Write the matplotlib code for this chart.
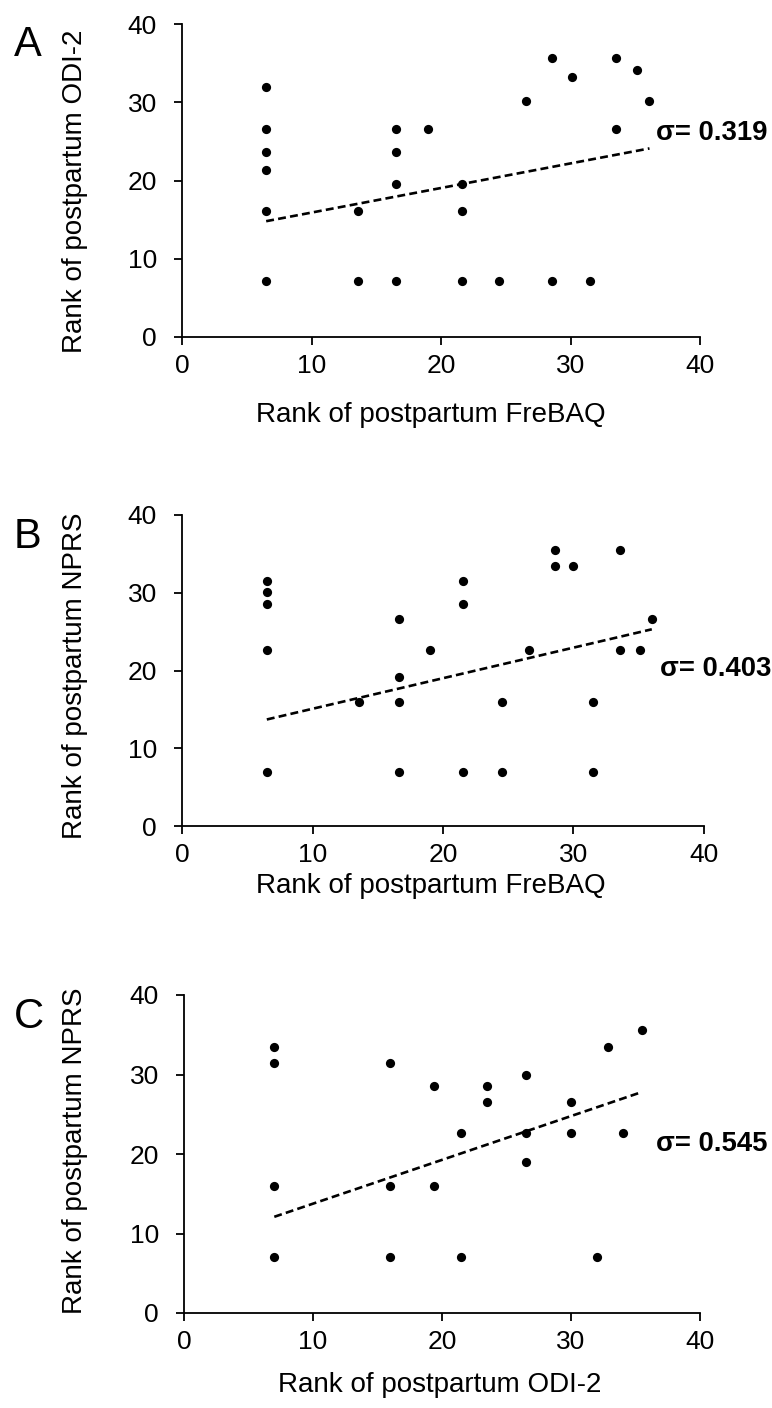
import matplotlib
matplotlib.use("Agg")
import matplotlib.pyplot as plt

plt.rcParams["font.family"] = ["Liberation Sans", "DejaVu Sans"]

# Panel A: FreBAQ rank vs ODI-2 rank
a_x = [6.5, 6.5, 6.5, 6.5, 6.5, 6.5, 13.6, 13.6, 16.5, 16.5, 16.5, 16.5, 19.0,
       21.6, 21.6, 21.6, 24.5, 26.6, 28.6, 28.6, 30.1, 31.5, 33.5, 33.5, 35.1, 36.1]
a_y = [32.0, 26.6, 23.6, 21.4, 16.1, 7.1, 16.1, 7.1, 26.6, 23.6, 19.6, 7.1, 26.6,
       19.6, 16.1, 7.1, 7.1, 30.1, 35.7, 7.1, 33.2, 7.1, 35.7, 26.6, 34.1, 30.1]
a_fit = ([6.5, 36.1], [14.8, 24.1])

# Panel B: FreBAQ rank vs NPRS rank
b_x = [6.5, 6.5, 6.5, 6.5, 6.5, 13.6, 16.6, 16.6, 16.6, 16.6, 19.0, 21.5, 21.5, 21.5,
       24.5, 24.5, 26.6, 28.6, 28.6, 30.0, 31.5, 31.5, 33.6, 33.6, 35.1, 36.0]
b_y = [31.5, 30.1, 28.6, 22.6, 6.9, 16.0, 26.6, 19.1, 16.0, 6.9, 22.6, 31.5, 28.6, 6.9,
       16.0, 6.9, 22.6, 35.5, 33.5, 33.5, 16.0, 6.9, 35.5, 22.6, 22.6, 26.6]
b_fit = ([6.5, 36.0], [13.7, 25.3])

# Panel C: ODI-2 rank vs NPRS rank
c_x = [7.0, 7.0, 7.0, 7.0, 16.0, 16.0, 16.0, 19.4, 19.4, 21.5, 21.5, 23.5, 23.5,
       26.5, 26.5, 26.5, 30.0, 30.0, 32.0, 32.9, 34.0, 35.5]
c_y = [33.5, 31.4, 16.0, 7.0, 31.4, 16.0, 7.0, 28.6, 16.0, 22.6, 7.0, 28.6, 26.5,
       29.9, 22.6, 19.0, 26.5, 22.6, 7.0, 33.5, 22.6, 35.6]
c_fit = ([7.0, 35.5], [12.1, 27.8])

panels = [
    ("A", a_x, a_y, a_fit, "σ= 0.319", "Rank of postpartum FreBAQ", "Rank of postpartum ODI-2"),
    ("B", b_x, b_y, b_fit, "σ= 0.403", "Rank of postpartum FreBAQ", "Rank of postpartum NPRS"),
    ("C", c_x, c_y, c_fit, "σ= 0.545", "Rank of postpartum ODI-2", "Rank of postpartum NPRS"),
]

W, H = 772, 1408
fig = plt.figure(figsize=(W / 100, H / 100), dpi=100)

# axes boxes in pixels: left, right, top, bottom
boxes = [(182, 700, 24, 337), (182, 704, 515, 826), (184, 700, 995, 1313)]
sigma_y = [26.1, 20.2, 21.3]
xlab_px = [(431, 415), (431, 886), (440, 1385)]
ylab_px = [(75, 191), (75, 676), (75, 1151)]
letter_px = [(14, 56), (14, 548), (14, 1028)]

for (letter, xs, ys, fit, sig, xlab, ylab), (l, r, t, b), sy, xl, yl, lp in zip(
        panels, boxes, sigma_y, xlab_px, ylab_px, letter_px):
    ax = fig.add_axes([l / W, 1 - b / H, (r - l) / W, (b - t) / H])
    ax.scatter(xs, ys, s=44, color="black", zorder=3, linewidths=0)
    ax.plot(fit[0], fit[1], color="black", linestyle=(0, (3, 1.6)), linewidth=1.9)
    ax.set_xlim(0, 40)
    ax.set_ylim(0, 40)
    ax.set_xticks([0, 10, 20, 30, 40])
    ax.set_yticks([0, 10, 20, 30, 40])
    for side in ("top", "right"):
        ax.spines[side].set_visible(False)
    for side in ("left", "bottom"):
        ax.spines[side].set_linewidth(1.3)
    ax.tick_params(axis="both", length=6, width=1.3, labelsize=19, color="black")
    ax.tick_params(axis="x", pad=6)
    ax.tick_params(axis="y", pad=12)
    ax.text(36.6, sy, sig, fontsize=19.8, fontweight="bold", ha="left", va="center",
            clip_on=False)
    fig.text(xl[0] / W, 1 - xl[1] / H, xlab, fontsize=20, ha="center", va="center")
    fig.text(yl[0] / W, 1 - yl[1] / H, ylab, fontsize=20, ha="center", va="center",
             rotation=90)
    fig.text(lp[0] / W, 1 - lp[1] / H, letter, fontsize=30, ha="left", va="baseline")

fig.savefig("out.png", dpi=100)
